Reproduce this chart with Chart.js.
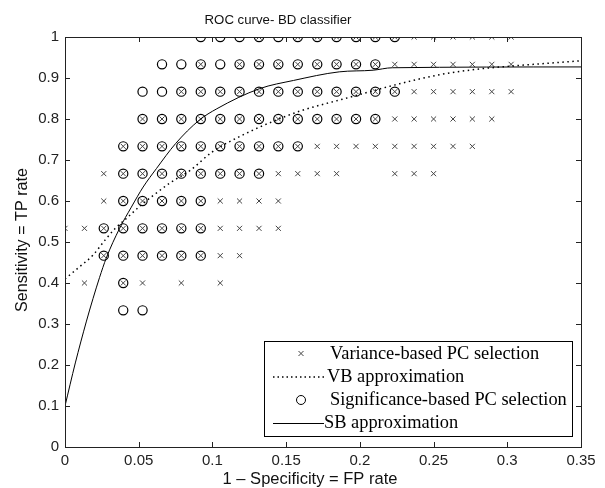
<!DOCTYPE html>
<html>
<head>
<meta charset="utf-8">
<script src="https://cdn.jsdelivr.net/npm/chart.js@4.4.1/dist/chart.umd.min.js"></script>
<style>
  html, body { margin: 0; padding: 0; background: #fff; }
  #wrap { width: 605px; height: 488px; }
</style>
</head>
<body>
<div id="wrap"><canvas id="c" width="605" height="488"></canvas></div>
<script>
// ---- data ----
const fprLevels = [0, 0.0132, 0.0263, 0.0395, 0.0526, 0.0658, 0.0789, 0.0921, 0.1053, 0.1184, 0.1316, 0.1447,
                   0.1579, 0.1711, 0.1842, 0.1974, 0.2105, 0.2237, 0.2368, 0.25, 0.2632, 0.2763, 0.2895, 0.3026];
const tprLevels = [1, 0.9333, 0.8667, 0.8, 0.7333, 0.6667, 0.6, 0.5333, 0.4667, 0.4, 0.3333];

// column indices (into fprLevels) where a marker sits, one list per tprLevels row
const varianceCols = [
  [10, 12, 13, 14, 15, 16, 17, 18, 19, 20, 21, 22, 23],
  [7, 9, 10, 11, 12, 13, 14, 15, 16, 17, 18, 19, 20, 21, 22, 23],
  [6, 7, 8, 9, 10, 11, 12, 13, 14, 15, 16, 17, 18, 19, 20, 21, 22, 23],
  [4, 5, 6, 7, 8, 9, 10, 11, 12, 13, 14, 15, 16, 17, 18, 19, 20, 21, 22],
  [3, 4, 5, 6, 7, 8, 9, 10, 11, 12, 13, 14, 15, 16, 17, 18, 19, 20, 21],
  [2, 3, 4, 5, 6, 7, 8, 9, 10, 11, 12, 13, 14, 17, 18, 19],
  [2, 3, 4, 5, 6, 7, 8, 9, 10, 11],
  [0, 1, 2, 3, 4, 5, 6, 7, 8, 9, 10, 11],
  [2, 3, 4, 5, 6, 7, 8, 9],
  [1, 3, 4, 6, 8],
  []
];
const significanceCols = [
  [7, 8, 9, 10, 11, 12, 13, 14, 15, 16, 17],
  [5, 6, 7, 8, 9, 10, 11, 12, 13, 14, 15, 16],
  [4, 5, 6, 7, 8, 9, 10, 11, 12, 13, 14, 15, 16, 17],
  [4, 5, 6, 7, 8, 9, 10, 11, 12, 13, 14, 15, 16],
  [3, 4, 5, 6, 7, 8, 9, 10, 11, 12],
  [3, 4, 5, 6, 7, 8, 9, 10],
  [3, 4, 5, 6, 7],
  [2, 3, 4, 5, 6, 7],
  [2, 3, 4, 5, 6, 7],
  [3],
  [3, 4]
];

const vbFpr = [0, 0.01, 0.019, 0.027, 0.034, 0.0415, 0.05, 0.06, 0.072, 0.085, 0.1, 0.12, 0.143, 0.16, 0.19, 0.227, 0.254, 0.281, 0.306, 0.35];
const vbTpr = [0.41, 0.44, 0.468, 0.504, 0.533, 0.557, 0.585, 0.614, 0.646, 0.675, 0.72, 0.76, 0.797, 0.82, 0.85, 0.886, 0.908, 0.922, 0.93, 0.942];

const sbFpr = [0, 0.007, 0.0144, 0.019, 0.0234, 0.028, 0.037, 0.045, 0.053, 0.062, 0.075, 0.091, 0.103, 0.132, 0.155, 0.186, 0.209, 0.222, 0.35];
const sbTpr = [0.1, 0.205, 0.305, 0.362, 0.413, 0.461, 0.533, 0.585, 0.634, 0.679, 0.74, 0.797, 0.825, 0.874, 0.894, 0.915, 0.919, 0.925, 0.927];

const xTickLabels = ['0', '0.05', '0.1', '0.15', '0.2', '0.25', '0.3', '0.35'];
const yTickLabels = ['0', '0.1', '0.2', '0.3', '0.4', '0.5', '0.6', '0.7', '0.8', '0.9', '1'];
const xTickValues = [0, 0.05, 0.1, 0.15, 0.2, 0.25, 0.3, 0.35];
const yTickValues = [0, 0.1, 0.2, 0.3, 0.4, 0.5, 0.6, 0.7, 0.8, 0.9, 1];

const titleText = 'ROC curve- BD classifier';
const xTitle = '1 \u2013 Specificity = FP rate';
const yTitle = 'Sensitivity = TP rate';
const legendLabels = ['Variance-based PC selection', 'VB approximation', 'Significance-based PC selection', 'SB approximation'];

// ---- build datasets ----
function gridPoints(cols) {
  const pts = [];
  cols.forEach((row, r) => row.forEach(k => pts.push({ x: fprLevels[k], y: tprLevels[r] })));
  return pts;
}
const zip = (xs, ys) => xs.map((x, i) => ({ x: x, y: ys[i] }));

const SANS = '"Liberation Sans", Arial, sans-serif';
const SERIF = '"Liberation Serif", "Times New Roman", serif';

function fitFont(ctx, text, width, family) {
  ctx.font = '20px ' + family;
  const w = ctx.measureText(text).width;
  return (20 * width / w).toFixed(2) + 'px ' + family;
}

const decor = {
  id: 'decor',
  afterDraw(chart) {
    const ctx = chart.ctx;
    const a = chart.chartArea;
    const xs = chart.scales.x, ys = chart.scales.y;
    ctx.save();
    ctx.strokeStyle = '#222';
    ctx.lineWidth = 1;
    ctx.strokeRect(a.left + 0.5, a.top + 0.5, a.right - a.left, a.bottom - a.top);
    ctx.beginPath();
    const tl = 5;
    xTickValues.forEach(v => {
      const p = Math.round(xs.getPixelForValue(v)) + 0.5;
      ctx.moveTo(p, a.bottom); ctx.lineTo(p, a.bottom - tl);
      ctx.moveTo(p, a.top); ctx.lineTo(p, a.top + tl);
    });
    yTickValues.forEach(v => {
      const p = Math.round(ys.getPixelForValue(v)) + 0.5;
      ctx.moveTo(a.left, p); ctx.lineTo(a.left + tl, p);
      ctx.moveTo(a.right, p); ctx.lineTo(a.right - tl, p);
    });
    ctx.stroke();

    // titles
    ctx.fillStyle = '#111';
    ctx.textAlign = 'center';
    ctx.textBaseline = 'middle';
    ctx.font = fitFont(ctx, titleText, 147, SANS);
    ctx.fillText(titleText, 278, 20);
    ctx.font = fitFont(ctx, xTitle, 175, SANS);
    ctx.fillText(xTitle, 310, 479);
    ctx.save();
    ctx.translate(22.5, 240);
    ctx.rotate(-Math.PI / 2);
    ctx.font = fitFont(ctx, yTitle, 144, SANS);
    ctx.fillText(yTitle, 0, 0);
    ctx.restore();

    // legend
    const L = 264, T = 341, R = 572, B = 436;
    ctx.fillStyle = '#fff';
    ctx.fillRect(L, T, R - L, B - T);
    ctx.strokeStyle = '#000';
    ctx.strokeRect(L + 0.5, T + 0.5, R - L, B - T);
    const rowsY = [353.5, 377, 400, 423];
    ctx.font = fitFont(ctx, legendLabels[2], 237, SERIF);
    ctx.textAlign = 'left';
    ctx.fillStyle = '#000';
    const textX = [330, 327, 330, 324];
    legendLabels.forEach((t, i) => ctx.fillText(t, textX[i], rowsY[i] + 0.5));
    // markers / line samples
    ctx.lineWidth = 1;
    ctx.strokeStyle = '#444';
    ctx.beginPath();
    const cx = 301, cy = rowsY[0], d = 2.5;
    ctx.moveTo(cx - d, cy - d); ctx.lineTo(cx + d, cy + d);
    ctx.moveTo(cx - d, cy + d); ctx.lineTo(cx + d, cy - d);
    ctx.stroke();
    ctx.strokeStyle = '#000';
    ctx.beginPath();
    ctx.arc(301, rowsY[2], 4.5, 0, Math.PI * 2);
    ctx.stroke();
    ctx.setLineDash([1.5, 3]);
    ctx.lineWidth = 1.5;
    ctx.beginPath();
    ctx.moveTo(273, rowsY[1]); ctx.lineTo(326, rowsY[1]);
    ctx.stroke();
    ctx.setLineDash([]);
    ctx.lineWidth = 1;
    ctx.beginPath();
    ctx.moveTo(273, rowsY[3] + 0.5); ctx.lineTo(324, rowsY[3] + 0.5);
    ctx.stroke();
    ctx.restore();
  }
};

new Chart(document.getElementById('c'), {
  type: 'scatter',
  data: {
    datasets: [
      {
        label: legendLabels[0],
        data: gridPoints(varianceCols),
        showLine: false,
        pointStyle: 'crossRot',
        pointRadius: 3.6,
        borderColor: '#444',
        borderWidth: 1,
        order: 2
      },
      {
        label: legendLabels[1],
        data: zip(vbFpr, vbTpr),
        showLine: true,
        pointRadius: 0,
        borderColor: '#000',
        borderWidth: 1.5,
        borderDash: [1.5, 3.5],
        cubicInterpolationMode: 'monotone',
        fill: false,
        order: 1
      },
      {
        label: legendLabels[2],
        data: gridPoints(significanceCols),
        showLine: false,
        pointStyle: 'circle',
        pointRadius: 4.6,
        backgroundColor: 'rgba(0,0,0,0)',
        borderColor: '#000',
        borderWidth: 1.2,
        order: 3
      },
      {
        label: legendLabels[3],
        data: zip(sbFpr, sbTpr),
        showLine: true,
        pointRadius: 0,
        borderColor: '#000',
        borderWidth: 1,
        cubicInterpolationMode: 'monotone',
        fill: false,
        order: 0
      }
    ]
  },
  options: {
    responsive: false,
    devicePixelRatio: 1,
    animation: false,
    layout: { padding: { left: 0, right: 24, top: 37, bottom: 0 } },
    plugins: { legend: { display: false }, title: { display: false }, tooltip: { enabled: false } },
    scales: {
      x: {
        type: 'linear', min: 0, max: 0.35,
        afterFit: s => { s.height = 41; },
        afterBuildTicks: s => { s.ticks = xTickValues.map(v => ({ value: v })); },
        grid: { display: false, drawTicks: false },
        border: { display: false },
        ticks: {
          padding: 5, color: '#222', maxRotation: 0, autoSkip: false,
          font: { family: SANS, size: 15 },
          callback: (v, i) => xTickLabels[i]
        }
      },
      y: {
        type: 'linear', min: 0, max: 1,
        afterFit: s => { s.width = 65; },
        afterBuildTicks: s => { s.ticks = yTickValues.map(v => ({ value: v })); },
        grid: { display: false, drawTicks: false },
        border: { display: false },
        ticks: {
          padding: 6, color: '#222', autoSkip: false,
          font: { family: SANS, size: 15 },
          callback: (v, i) => yTickLabels[i]
        }
      }
    }
  },
  plugins: [decor]
});
</script>
</body>
</html>
